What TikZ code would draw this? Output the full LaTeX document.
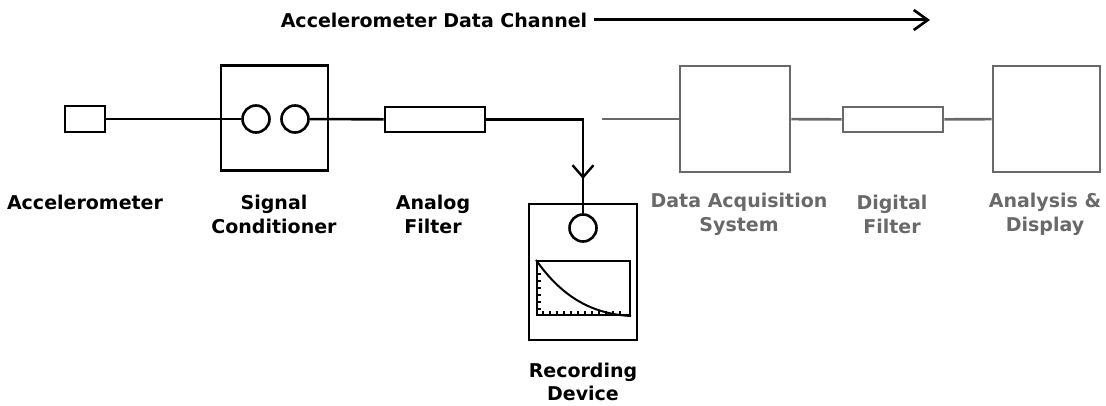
\documentclass[tikz,border=0pt]{standalone}
\usepackage{fontspec}
\setmainfont{DejaVu Sans}
\usetikzlibrary{arrows.meta}
\definecolor{dimgray}{RGB}{105,105,105}
\tikzset{
  blk/.style={draw,line width=2.6pt,inner sep=0pt},
  knob/.style={draw,circle,line width=2.6pt,minimum size=27pt,inner sep=0pt},
  wire/.style={line width=2.6pt},
  lbl/.style={font=\bfseries\fontsize{19}{24}\selectfont,align=center,inner sep=0pt},
  faded/.style={draw=dimgray,text=dimgray}
}
\begin{document}
\begin{tikzpicture}[x=1pt,y=-1pt]
  \useasboundingbox (0,0) rectangle (1106,406);
  % heading
  \node[lbl] (title) at (434,20) {Accelerometer Data Channel};
  \coordinate (titleend) at (930,20);
  \draw[line width=3pt,-{Straight Barb[length=14pt,width=20pt,line width=2.6pt]}]
    ([xshift=7pt]title.east) -- (titleend);
  % analog part
  \node[blk,minimum width=40pt,minimum height=26pt] (accel) at (85,119) {};
  \node[blk,minimum width=107pt,minimum height=105pt] (cond) at (274.5,118) {};
  \node[knob] (c1) at (256,119) {};
  \node[knob] (c2) at (295,119) {};
  \node[blk,minimum width=100pt,minimum height=25pt] (afilt) at (435,119.5) {};
  \draw[wire] (accel) -- (c1);
  \draw[wire] (c2) -- (afilt);
  % recorder
  \node[blk,minimum width=108pt,minimum height=136pt] (rec) at (583,272) {};
  \node[knob] (rcirc) at (583,228) {};
  \node[draw,line width=2pt,minimum width=93pt,minimum height=54pt,inner sep=0pt] (scr) at (583.5,288) {};
  \draw[line width=2pt] (scr.north west) .. controls (562,297) and (592,314) .. (scr.south east);
  \foreach \k in {1,...,6}
    \draw[line width=1.8pt] ([yshift=7*\k pt]scr.south west) -- ++(5,0);
  \foreach \k in {1,...,12}
    \draw[line width=1.8pt] ([xshift=7*\k pt]scr.south west) -- ++(0,-5);
  \coordinate (bend) at (afilt.east -| rcirc);
  \coordinate (tip) at (583,179);
  \draw[wire] (afilt.east) -- (bend) -- (rcirc.north);
  \draw[wire,-{Straight Barb[length=12pt,width=21pt,line width=2.4pt]}] (bend) -- (tip);
  % digital part
  \coordinate (gstart) at (602,119);
  \node[blk,faded,minimum width=110pt,minimum height=106pt] (daq) at (735,119) {};
  \node[blk,faded,minimum width=100pt,minimum height=25pt] (dfilt) at (893,119.5) {};
  \node[blk,faded,minimum width=107pt,minimum height=106pt] (disp) at (1046.5,119) {};
  \draw[wire,dimgray] (gstart) -- (daq);
  \draw[wire,dimgray] (daq) -- (dfilt);
  \draw[wire,dimgray] (dfilt) -- (disp);
  % labels
  \node[lbl] (laccel) at (85,202) {Accelerometer};
  \node[lbl] (lcond) at (274,214) {Signal\\Conditioner};
  \node[lbl] (lafilt) at (433,214) {Analog\\Filter};
  \node[lbl,font=\bfseries\fontsize{19}{23}\selectfont] (lrec) at (583,382) {Recording\\Device};
  \node[lbl,text=dimgray] (ldaq) at (739,214) {Data Acquisition\\System};
  \node[lbl,text=dimgray] (ldfilt) at (892,214) {Digital\\Filter};
  \node[lbl,text=dimgray] (ldisp) at (1045,214) {Analysis \&\\Display};
\end{tikzpicture}
\end{document}
